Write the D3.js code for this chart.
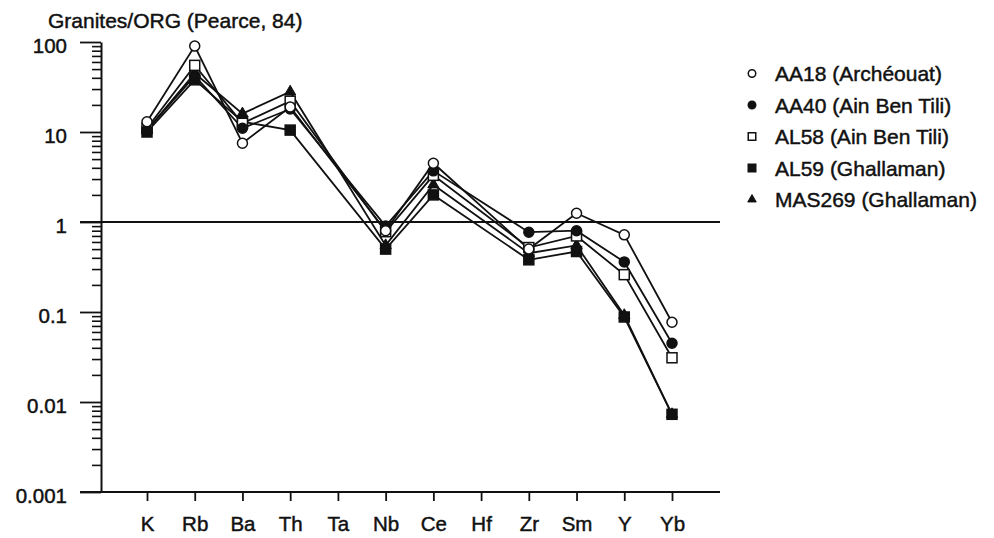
<!DOCTYPE html>
<html>
<head>
<meta charset="utf-8">
<script src="https://cdn.jsdelivr.net/npm/d3@7"></script>
<style>
  html, body { margin: 0; padding: 0; background: #fff; }
  svg text { font-family: "Liberation Sans", Arial, Helvetica, sans-serif; fill: #111; stroke: #111; stroke-width: 0.45px; }
</style>
</head>
<body>
<svg id="chart" width="994" height="538"></svg>
<script>
// ---------- data ----------
const elements = ["K", "Rb", "Ba", "Th", "Ta", "Nb", "Ce", "Hf", "Zr", "Sm", "Y", "Yb"];
const seriesNames = ["AA18 (Archéouat)", "AA40 (Ain Ben Tili)", "AL58 (Ain Ben Tili)", "AL59 (Ghallaman)", "MAS269 (Ghallaman)"];
const seriesSymbols = ["circle-open", "circle", "square-open", "square", "triangle"];
// null = not analysed (Ta, Hf)
const AA18   = [13,   90, 7.5, 19,   null, 0.80, 4.5, null, 0.50, 1.25, 0.72, 0.077];
const AA40   = [10.5, 42, 11,  18,   null, 0.90, 3.7, null, 0.77, 0.80, 0.36, 0.045];
const AL58   = [11,   55, 12.5, 22,  null, 0.78, 3.3, null, 0.52, 0.70, 0.26, 0.031];
const AL59   = [10,   38, 13,  10.5, null, 0.50, 2.0, null, 0.38, 0.47, 0.088, 0.0073];
const MAS269 = [10.5, 45, 16,  28,   null, 0.55, 2.6, null, 0.45, 0.55, 0.092, 0.0073];
const seriesValues = [AA18, AA40, AL58, AL59, MAS269];
const majorTicks = [0.001, 0.01, 0.1, 1, 10, 100];
const majorTickLabels = ["0.001", "0.01", "0.1", "1", "10", "100"];
const title = "Granites/ORG (Pearce, 84)";
const referenceLevel = 1;

// ---------- layout ----------
const axisX = 101, axisTop = 42, axisBottom = 492;
const lineLeft = 80, lineRight = 720;
const fs = 20.5;
const ink = "#111";

const svg = d3.select("#chart");
const x = d3.scalePoint().domain(elements).range([147, 672]);
const y = d3.scaleLog().domain([0.001, 100]).range([axisBottom, axisTop]);

// title
svg.append("text").attr("x", 48).attr("y", 28).attr("font-size", 21).text(title);

// minor ticks
const minorTicks = [];
for (let e = -3; e < 2; e++) for (let m = 2; m <= 9; m++) minorTicks.push(m * Math.pow(10, e));
svg.append("g").attr("transform", `translate(${axisX},0)`)
  .call(d3.axisLeft(y).tickValues(minorTicks).tickSize(9).tickSizeOuter(0).tickFormat(""))
  .call(g => g.select(".domain").remove())
  .call(g => g.selectAll("line").attr("stroke", ink).attr("stroke-width", 1.6));

// major ticks + labels + axis line
const yAxis = svg.append("g").attr("transform", `translate(${axisX},0)`)
  .call(d3.axisLeft(y).tickValues(majorTicks).tickSize(axisX - lineLeft).tickSizeOuter(0)
        .tickPadding(13).tickFormat((d, i) => majorTickLabels[i]));
yAxis.select(".domain").attr("stroke", ink).attr("stroke-width", 2);
yAxis.selectAll("line").attr("stroke", ink).attr("stroke-width", 1.8);
yAxis.selectAll("text").attr("font-size", fs).attr("dy", "0.5em").style("fill", ink);

// x axis
const xAxis = svg.append("g").attr("transform", `translate(0,${axisBottom})`)
  .call(d3.axisBottom(x).tickSize(9).tickSizeOuter(0));
xAxis.select(".domain").remove();
xAxis.selectAll("line").attr("stroke", ink).attr("stroke-width", 1.8);
xAxis.selectAll("text").attr("font-size", fs).attr("y", 39).attr("dy", 0).style("fill", ink);
svg.append("line").attr("x1", lineLeft).attr("x2", lineRight)
  .attr("y1", axisBottom).attr("y2", axisBottom).attr("stroke", ink).attr("stroke-width", 2);

// reference line at 1
svg.append("line").attr("x1", lineLeft).attr("x2", lineRight)
  .attr("y1", y(referenceLevel)).attr("y2", y(referenceLevel))
  .attr("stroke", ink).attr("stroke-width", 1.8);

// series lines
const line = d3.line().x(d => x(d.el)).y(d => y(d.v));
const seriesPts = seriesValues.map(vals =>
  elements.map((el, i) => ({ el, v: vals[i] })).filter(d => d.v != null));
svg.append("g").selectAll("path").data(seriesPts).join("path")
  .attr("d", line).attr("fill", "none").attr("stroke", ink).attr("stroke-width", 1.8);

// markers
function drawMarker(g, kind, size) {
  const h = size / 2;
  if (kind === "circle" || kind === "circle-open") {
    g.append("circle").attr("r", h)
      .attr("fill", kind === "circle" ? ink : "#fff").attr("stroke", ink).attr("stroke-width", 1.5);
  } else if (kind === "square" || kind === "square-open") {
    g.append("rect").attr("x", -h).attr("y", -h).attr("width", size).attr("height", size)
      .attr("fill", kind === "square" ? ink : "#fff").attr("stroke", ink).attr("stroke-width", 1.5);
  } else {
    g.append("path").attr("d", d3.symbol(d3.symbolTriangle, size * size * 0.55)())
      .attr("fill", ink).attr("stroke", ink).attr("stroke-width", 1);
  }
}
const drawOrder = [4, 3, 2, 1, 0];
drawOrder.forEach(si => {
  seriesPts[si].forEach(d => {
    const g = svg.append("g").attr("transform", `translate(${x(d.el)},${y(d.v)})`);
    drawMarker(g, seriesSymbols[si], 10);
  });
});

// legend
const legend = svg.append("g");
seriesNames.forEach((name, i) => {
  const cy = 73.5 + i * 31.5;
  const g = legend.append("g").attr("transform", `translate(752,${cy})`);
  drawMarker(g, seriesSymbols[i], 7.5);
  legend.append("text").attr("x", 775).attr("y", cy).attr("dy", "0.36em")
    .attr("font-size", 21).text(name);
});
</script>
</body>
</html>
